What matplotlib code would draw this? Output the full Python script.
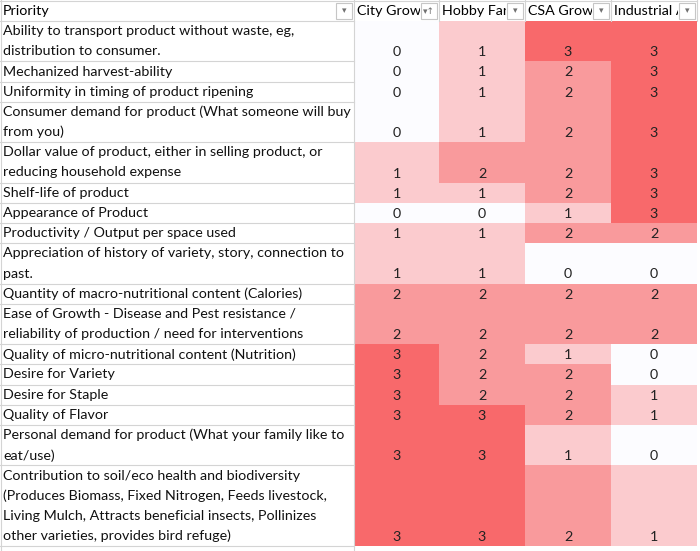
import matplotlib.pyplot as plt
import numpy as np
from matplotlib.colors import LinearSegmentedColormap
from matplotlib.patches import Rectangle
from matplotlib.transforms import Bbox, TransformedBbox

# priorities (line breaks as wrapped in the sheet)
priorities = [
    "Ability to transport product without waste, eg,\ndistribution to consumer.",
    "Mechanized harvest-ability",
    "Uniformity in timing of product ripening",
    "Consumer demand for product (What someone will buy\nfrom you)",
    "Dollar value of product, either in selling product, or\nreducing household expense",
    "Shelf-life of product",
    "Appearance of Product",
    "Productivity / Output per space used",
    "Appreciation of history of variety, story, connection to\npast.",
    "Quantity of macro-nutritional content (Calories)",
    "Ease of Growth - Disease and Pest resistance /\nreliability of production / need for interventions",
    "Quality of micro-nutritional content (Nutrition)",
    "Desire for Variety",
    "Desire for Staple",
    "Quality of Flavor",
    "Personal demand for product (What your family like to\neat/use)",
    "Contribution to soil/eco health and biodiversity\n(Produces Biomass, Fixed Nitrogen, Feeds livestock,\n"
    "Living Mulch, Attracts beneficial insects, Pollinizes\nother varieties, provides bird refuge)",
]
groups = ["City Grower", "Hobby Farmer", "CSA Grower", "Industrial Ag"]
city = [0, 0, 0, 0, 1, 1, 0, 1, 1, 2, 2, 3, 3, 3, 3, 3, 3]
hobby = [1, 1, 1, 1, 2, 1, 0, 1, 1, 2, 2, 2, 2, 2, 3, 3, 3]
csa = [3, 2, 2, 2, 2, 2, 1, 2, 0, 2, 2, 1, 2, 2, 2, 1, 2]
industrial = [3, 3, 3, 3, 3, 3, 3, 2, 0, 2, 2, 0, 0, 1, 1, 0, 1]

scores = np.array([city, hobby, csa, industrial]).T

# sheet geometry in pixels
line_h = 20.2
header_h = 21
col_edges = np.array([0, 354, 439, 525, 611, 697])
n_lines = [p.count("\n") + 1 for p in priorities]
row_edges = header_h + line_h * np.concatenate([[0], np.cumsum(n_lines)])

font = "Lato"
fs = 10.3
grid_c = "#D4D4D4"

fig = plt.figure(figsize=(7, 5.51), dpi=100)
ax = fig.add_axes([0, 0, 1, 1])
ax.set_xlim(0, 700)
ax.set_ylim(551, 0)
ax.axis("off")

# colour scale like Excel's white -> red
cmap = LinearSegmentedColormap.from_list("excel", ["#FCFCFF", "#F8696B"])
ax.pcolormesh(col_edges[1:], row_edges, scores, cmap=cmap, vmin=0, vmax=3)

# grid lines of the Priority column
for y in row_edges:
    ax.plot([0, col_edges[1]], [y, y], color=grid_c, lw=0.8)
ax.plot([0, col_edges[-1]], [0.5, 0.5], color=grid_c, lw=0.8)
ax.plot([0.5, 0.5], [0, 551], color=grid_c, lw=0.8)
ax.plot([col_edges[1], col_edges[1]], [0, 551], color=grid_c, lw=0.8)
for x in col_edges[2:]:
    ax.plot([x, x], [0, header_h], color=grid_c, lw=0.8)

# priority labels, one text per wrapped line
for i, label in enumerate(priorities):
    for j, line in enumerate(label.split("\n")):
        ax.text(3, row_edges[i] + (j + 0.5) * line_h, line, ha="left", va="center",
                fontsize=fs, family=font, color="#111111")

# scores, on the last line of each row
for i in range(len(priorities)):
    for k in range(len(groups)):
        xc = (col_edges[k + 1] + col_edges[k + 2]) / 2
        ax.text(xc, row_edges[i + 1] - line_h / 2 + 1, str(scores[i, k]), ha="center", va="center",
                fontsize=fs, family=font, color="#222222")

# header row
ax.text(3, header_h / 2 + 0.5, "Priority", ha="left", va="center", fontsize=fs, family=font)
for k, g in enumerate(groups):
    x0 = col_edges[k + 1]
    t = ax.text(x0 + 3, header_h / 2 + 0.5, g, ha="left", va="center", fontsize=fs, family=font)
    box = Bbox([[x0, 0], [col_edges[k + 2] - 19, header_h]])
    t.set_clip_box(TransformedBbox(box, ax.transData))
    t.set_clip_on(True)

# filter buttons
for k, x1 in enumerate(col_edges[1:]):
    bx = x1 - 18
    ax.add_patch(Rectangle((bx, 2.5), 16, 16, facecolor="white", edgecolor="#C6C6C6", lw=0.8))
    sym = "▾↑" if k == 1 else "▾"
    ax.text(bx + 8, 11, sym, ha="center", va="center", fontsize=6.5, color="#707070")

fig.savefig("out.png", dpi=100)
